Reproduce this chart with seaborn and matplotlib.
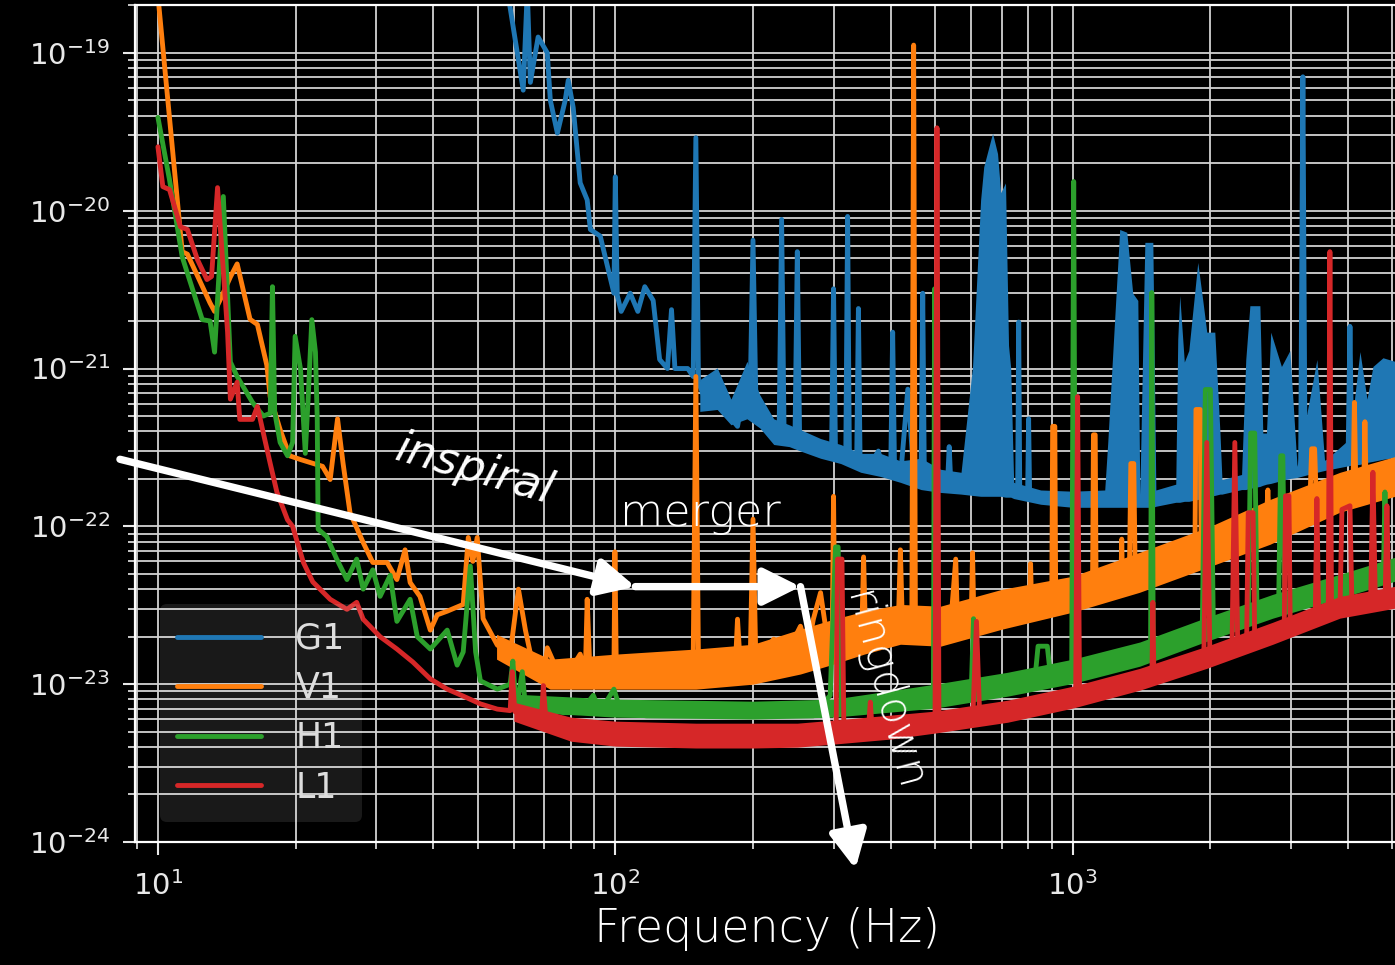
import matplotlib
matplotlib.use("Agg")
import matplotlib.pyplot as plt
import seaborn as sns
from matplotlib.ticker import FixedLocator, LogLocator, NullFormatter

# ---------------- data ----------------
detectors = ["G1", "V1", "H1", "L1"]
colors = ["#1f77b4", "#ff7f0e", "#2ca02c", "#d62728"]
x_major_ticks = [10, 100, 1000]
y_major_ticks = [1e-24, 1e-23, 1e-22, 1e-21, 1e-20, 1e-19]

g1_freq = [57.5, 59.8, 62.9, 64.2, 65.2, 67.8, 71.0, 72.1, 74.7, 77.7,
           78.9, 80.9, 83.8, 86.8, 88.2, 92.7, 96.2, 99.3, 100.0, 101.0,
           103.0, 107.8, 112.0, 116.0, 121.0, 125.0, 130.0, 132.7, 135.0, 144.0,
           148.0, 150.0, 152.0, 159.0, 167.0, 172.0, 185.0, 194.0, 197.0, 200.0,
           203.0, 222.0, 228.0, 231.0, 234.0, 247.0, 250.0, 253.0, 271.0, 277.0,
           297.0, 300.0, 303.0, 319.0, 322.0, 325.0, 337.0, 340.0, 343.0, 356.0,
           376.0, 386.0, 400.0, 404.0, 408.0, 420.0, 436.0, 450.0, 466.0, 470.0,
           474.0, 489.0, 511.0, 532.0, 537.0, 542.0, 577.0, 604.0, 721.0, 758.0,
           762.0, 766.0, 797.0, 801.0, 805.0, 851.0, 1000.0, 1187.0, 1402.0, 1660.0,
           1964.0, 2325.0, 2739.0, 3150.0, 3186.0, 3222.0, 3839.0, 4000.0, 4038.0, 4076.0,
           4533.0, 5066.0]
g1_asd = [3.0e-19, 1.46e-19, 5.8e-20, 2.5e-19, 6.5e-20, 1.26e-19, 1.0e-19, 5.0e-20, 3.1e-20, 5.0e-20,
          6.7e-20, 4.5e-20, 1.5e-20, 1.17e-20, 7.6e-21, 6.9e-21, 4.4e-21, 3.0e-21, 1.64e-20, 2.9e-21,
          2.3e-21, 3.0e-21, 2.3e-21, 3.3e-21, 2.7e-21, 1.14e-21, 1.0e-21, 2.36e-21, 1.0e-21, 1.0e-21,
          8.9e-22, 2.9e-20, 8.2e-22, 5.8e-22, 9.0e-22, 5.6e-22, 4.3e-22, 9.0e-22, 6.0e-22, 6.5e-21,
          6.0e-22, 3.6e-22, 3.6e-22, 8.8e-21, 3.5e-22, 3.4e-22, 5.5e-21, 3.3e-22, 3.5e-22, 2.9e-22,
          2.9e-22, 3.2e-21, 2.8e-22, 2.6e-22, 9.2e-21, 2.5e-22, 2.4e-22, 2.4e-21, 2.4e-22, 2.3e-22,
          3.0e-22, 2.2e-22, 2.2e-22, 1.7e-21, 2.1e-22, 2.0e-22, 7.4e-22, 2.0e-22, 1.9e-22, 3.0e-21,
          1.9e-22, 1.8e-22, 1.75e-22, 1.75e-22, 3.2e-22, 1.75e-22, 1.75e-22, 1.8e-22, 1.71e-22, 1.65e-22,
          1.97e-21, 1.65e-22, 1.6e-22, 4.8e-22, 1.6e-22, 1.55e-22, 1.48e-22, 1.48e-22, 1.48e-22, 1.6e-22,
          1.74e-22, 1.85e-22, 2.13e-22, 2.3e-22, 7.05e-20, 2.33e-22, 2.66e-22, 2.7e-22, 1.85e-21, 2.75e-22,
          2.9e-22, 3.07e-22]
g1_band_freq = [153, 167, 179, 194, 207, 222, 240, 254, 281, 311,
                344, 380, 420, 466, 514, 570, 604, 629, 639, 668,
                685, 696, 713, 724, 732, 743, 851, 1000, 1175, 1193,
                1267, 1313, 1353, 1388, 1402, 1438, 1497, 1520, 1680, 1697,
                1714, 1754, 1794, 1877, 1925, 1964, 2045, 2099, 2120, 2340,
                2390, 2440, 2566, 2604, 2652, 2710, 2860, 2984, 3094, 3419,
                3554, 4038, 4246, 4400, 4533, 4768, 5066]
g1_band_hi = [8.5e-22, 1.01e-21, 6.4e-22, 1.11e-21, 6.8e-22, 4.8e-22, 4.4e-22, 4.1e-22, 3.6e-22, 3.3e-22,
              2.9e-22, 2.9e-22, 2.6e-22, 2.7e-22, 2.3e-22, 2.2e-22, 1.03e-21, 1.17e-20, 1.9e-20, 3.1e-20,
              2.3e-20, 1.3e-20, 1.5e-20, 1.4e-21, 1.0e-21, 1.9e-22, 1.7e-22, 1.67e-22, 1.7e-22, 3.4e-22,
              7.6e-21, 7.3e-21, 3.0e-21, 2.7e-21, 1.6e-22, 6.3e-21, 6.3e-21, 1.7e-22, 1.85e-22, 1.53e-21,
              2.9e-21, 1.1e-21, 1.3e-21, 4.7e-21, 2.7e-21, 1.7e-21, 1.7e-21, 3.9e-22, 1.98e-22, 2.13e-22,
              1.14e-21, 2.5e-21, 2.5e-21, 3.9e-22, 3.9e-22, 1.7e-21, 1.03e-21, 1.3e-21, 2.4e-22, 1.14e-21,
              2.6e-22, 3.6e-22, 1.28e-21, 6.4e-22, 1.03e-21, 1.17e-21, 1.11e-21]
g1_band_lo = [5.35e-22, 5.5e-22, 4.4e-22, 4.8e-22, 4.2e-22, 3.3e-22, 3.2e-22, 3.0e-22, 2.7e-22, 2.5e-22,
              2.2e-22, 2.07e-22, 1.9e-22, 1.71e-22, 1.64e-22, 1.6e-22, 1.57e-22, 1.55e-22, 1.55e-22, 1.55e-22,
              1.55e-22, 1.55e-22, 1.53e-22, 1.53e-22, 1.53e-22, 1.5e-22, 1.38e-22, 1.32e-22, 1.32e-22, 1.32e-22,
              1.32e-22, 1.32e-22, 1.32e-22, 1.32e-22, 1.32e-22, 1.32e-22, 1.32e-22, 1.34e-22, 1.42e-22, 1.42e-22,
              1.42e-22, 1.44e-22, 1.44e-22, 1.48e-22, 1.5e-22, 1.55e-22, 1.57e-22, 1.6e-22, 1.6e-22, 1.71e-22,
              1.71e-22, 1.74e-22, 1.79e-22, 1.82e-22, 1.85e-22, 1.87e-22, 1.95e-22, 2.01e-22, 2.04e-22, 2.2e-22,
              2.26e-22, 2.43e-22, 2.47e-22, 2.54e-22, 2.58e-22, 2.66e-22, 2.73e-22]

v1_freq = [10.0, 11.3, 11.6, 13.0, 13.3, 13.7, 14.4, 14.9, 15.9, 16.5,
           17.3, 17.6, 18.5, 19.4, 20.5, 22.9, 23.8, 24.7, 25.4, 26.3,
           28.1, 29.5, 31.7, 33.3, 34.7, 35.6, 37.4, 39.4, 40.8, 42.9,
           46.5, 47.7, 48.8, 49.9, 51.4, 55.2, 58.9, 61.4, 63.6, 66.1,
           69.6, 71.0, 74.7, 79.7, 83.8, 86.0, 86.8, 88.0, 92.7, 97.8,
           99.3, 99.8, 100.5, 103.0, 113.0, 125.0, 139.0, 148.0, 150.0, 152.0,
           164.0, 183.0, 185.0, 188.0, 197.0, 200.0, 203.0, 211.0, 222.0, 238.0,
           254.0, 263.0, 271.0, 281.0, 291.0, 298.0, 300.0, 302.0, 311.0, 332.0,
           346.0, 349.0, 352.0, 367.0, 394.0, 416.0, 420.0, 424.0, 436.0, 445.0,
           449.0, 453.0, 482.0, 541.0, 555.0, 560.0, 600.0, 604.0, 608.0, 700.0,
           805.0, 809.0, 813.0, 900.0, 904.0, 914.0, 918.0, 1000.0, 1105.0, 1110.0,
           1120.0, 1125.0, 1275.0, 1280.0, 1285.0, 1330.0, 1340.0, 1360.0, 1370.0, 1850.0,
           1860.0, 1900.0, 1910.0, 2650.0, 2671.0, 2690.0, 3300.0, 3330.0, 3380.0, 3410.0,
           4100.0, 4130.0, 4160.0, 4330.0, 4354.0, 4380.0, 5066.0]
v1_asd = [2.3e-19, 5.5e-21, 5.3e-21, 2.6e-21, 2.3e-21, 2.75e-21, 3.8e-21, 4.6e-21, 2.05e-21, 1.9e-21,
          1.05e-21, 6.6e-22, 4.1e-22, 2.8e-22, 2.65e-22, 2.4e-22, 1.98e-22, 4.8e-22, 2.5e-22, 1.22e-22,
          7.9e-23, 5.9e-23, 5.9e-23, 4.6e-23, 7.1e-23, 4.4e-23, 3.6e-23, 2.2e-23, 2.75e-23, 2.9e-23,
          3.2e-23, 8.5e-23, 6.0e-23, 8.5e-23, 2.6e-23, 1.77e-23, 1.55e-23, 4.0e-23, 2.2e-23, 1.3e-23,
          1.1e-23, 1.7e-23, 1.22e-23, 1.22e-23, 1.55e-23, 1.2e-23, 3.45e-23, 1.2e-23, 1.08e-23, 1.44e-23,
          1.2e-23, 6.9e-23, 1.25e-23, 1.22e-23, 1.25e-23, 1.3e-23, 1.22e-23, 1.4e-23, 8.9e-22, 1.35e-23,
          1.44e-23, 1.3e-23, 2.58e-23, 1.2e-23, 1.2e-23, 1.11e-22, 1.3e-23, 1.6e-23, 1.93e-23, 1.6e-23,
          2.33e-23, 1.6e-23, 2.58e-23, 3.8e-23, 1.9e-23, 1.9e-23, 1.55e-22, 2.2e-23, 2.58e-23, 2.2e-23,
          2.2e-23, 6.4e-23, 2.4e-23, 2.6e-23, 2.95e-23, 2.6e-23, 7.1e-23, 2.6e-23, 2.7e-23, 2.5e-23,
          1.12e-19, 2.5e-23, 2.5e-23, 2.4e-23, 6.2e-23, 2.4e-23, 2.6e-23, 6.8e-23, 2.6e-23, 2.9e-23,
          3.2e-23, 5.8e-23, 3.2e-23, 3.4e-23, 4.3e-22, 4.3e-22, 3.4e-23, 3.7e-23, 4.0e-23, 3.8e-22,
          3.8e-22, 4.1e-23, 4.5e-23, 8.3e-23, 4.5e-23, 4.7e-23, 2.5e-22, 2.5e-22, 4.8e-23, 6.8e-23,
          5.5e-22, 5.5e-22, 7.0e-23, 1.05e-22, 1.7e-22, 1.07e-22, 1.4e-22, 3.1e-22, 3.1e-22, 1.45e-22,
          1.75e-22, 6.1e-22, 1.78e-22, 1.85e-22, 4.6e-22, 1.87e-22, 2.1e-22]
v1_band_freq = [55, 72, 100, 150, 200, 254, 300, 350, 420, 514, 700, 1000, 1400, 2000, 2700, 3840, 5066]
v1_band_hi = [2.07e-23, 1.44e-23, 1.55e-23, 1.67e-23, 1.79e-23, 2.23e-23, 2.58e-23, 2.9e-23, 3.2e-23,
              3.12e-23, 3.99e-23, 4.83e-23, 6.84e-23, 1.0e-22, 1.48e-22, 2.2e-22, 2.77e-22]
v1_band_lo = [1.44e-23, 9.3e-24, 9.3e-24, 9.3e-24, 1.0e-23, 1.16e-23, 1.34e-23, 1.55e-23, 1.79e-23,
              1.74e-23, 2.23e-23, 2.86e-23, 3.82e-23, 5.58e-23, 7.7e-23, 1.23e-22, 1.55e-22]

h1_freq = [10.0, 10.6, 11.3, 12.5, 13.0, 13.3, 13.9, 14.4, 14.9, 16.1,
           17.0, 17.6, 17.8, 18.0, 18.5, 19.2, 19.7, 19.95, 20.5, 21.0,
           21.3, 21.7, 22.1, 22.3, 22.4, 23.4, 24.6, 25.9, 27.2, 28.1,
           29.5, 30.6, 32.2, 33.3, 35.6, 36.9, 39.4, 42.9, 45.1, 46.5,
           48.2, 49.5, 50.7, 55.2, 58.9, 59.7, 60.5, 61.1, 62.6, 63.5,
           65.2, 71.0, 77.0, 83.8, 89.5, 92.7, 99.3, 103.0, 117.0, 139.0,
           164.0, 181.0, 194.0, 228.0, 271.0, 295.0, 303.0, 307.0, 312.0, 322.0,
           380.0, 449.0, 496.0, 499.0, 502.0, 514.0, 600.0, 607.0, 614.0, 721.0,
           826.0, 840.0, 880.0, 895.0, 995.0, 1005.0, 1015.0, 1187.0, 1402.0, 1480.0,
           1489.0, 1500.0, 1660.0, 1920.0, 1950.0, 2000.0, 2030.0, 2325.0, 2420.0, 2450.0,
           2500.0, 2530.0, 2820.0, 2850.0, 2880.0, 2910.0, 3251.0, 3839.0, 4780.0, 4816.0,
           4860.0, 5066.0]
h1_asd = [3.9e-20, 1.57e-20, 5.1e-21, 2.04e-21, 2.0e-21, 1.27e-21, 1.23e-20, 1.1e-21, 8.9e-22, 6.1e-22,
          5.0e-22, 5.2e-22, 3.3e-21, 5.3e-22, 3.4e-22, 2.8e-22, 3.4e-22, 1.6e-21, 9.9e-22, 2.9e-22,
          6.4e-22, 2.04e-21, 1.27e-21, 4.8e-22, 9.6e-23, 8.6e-23, 6.2e-23, 4.6e-23, 6.2e-23, 4.0e-23,
          5.3e-23, 3.6e-23, 4.9e-23, 2.5e-23, 3.45e-23, 2.0e-23, 1.67e-23, 2.2e-23, 1.32e-23, 1.6e-23,
          5.6e-23, 1.6e-23, 1.05e-23, 9.3e-24, 1.0e-23, 1.4e-23, 8.0e-24, 7.7e-24, 1.2e-23, 7.6e-24,
          7.4e-24, 7.0e-24, 6.6e-24, 6.6e-24, 8.5e-24, 6.7e-24, 9.3e-24, 6.6e-24, 6.3e-24, 6.3e-24,
          6.3e-24, 7.0e-24, 6.3e-24, 6.3e-24, 6.3e-24, 8.5e-24, 7.4e-23, 7.4e-23, 7.0e-24, 7.0e-24,
          7.3e-24, 7.7e-24, 8.0e-24, 3.2e-21, 8.2e-24, 8.4e-24, 9.0e-24, 2.6e-23, 9.3e-24, 1.0e-23,
          1.05e-23, 1.74e-23, 1.74e-23, 1.1e-23, 1.2e-23, 1.53e-20, 1.2e-23, 1.34e-23, 1.55e-23, 1.6e-23,
          3.03e-21, 1.62e-23, 1.86e-23, 2.2e-23, 7.36e-22, 7.36e-22, 2.3e-23, 2.58e-23, 2.6e-23, 3.9e-22,
          3.9e-22, 2.7e-23, 3.1e-23, 2.8e-22, 2.8e-22, 3.2e-23, 3.6e-23, 4.2e-23, 5.0e-23, 1.65e-22,
          5.1e-23, 5.34e-23]
h1_band_freq = [60, 100, 200, 300, 500, 721, 1000, 1402, 1964, 2739, 3839, 5066]
h1_band_hi = [8.65e-24, 8.04e-24, 7.8e-24, 8.04e-24, 1.0e-23, 1.19e-23, 1.44e-23, 1.85e-23, 2.65e-23,
              3.71e-23, 4.97e-23, 6.37e-23]
h1_band_lo = [6.75e-24, 6.18e-24, 6.01e-24, 6.18e-24, 7.05e-24, 8.4e-24, 1.01e-23, 1.3e-23, 1.87e-23,
              2.62e-23, 3.5e-23, 4.49e-23]

l1_freq = [10.0, 10.25, 10.6, 11.2, 11.6, 12.2, 12.8, 13.1, 13.5, 14.2,
           14.4, 14.9, 15.1, 16.1, 16.5, 17.0, 17.6, 18.2, 19.2, 19.7,
           20.8, 21.8, 23.8, 25.9, 27.2, 28.1, 30.6, 33.3, 36.1, 39.4,
           42.9, 46.5, 50.7, 55.2, 58.9, 59.5, 60.3, 65.2, 68.9, 69.6,
           70.5, 78.5, 91.3, 108.0, 127.0, 150.0, 179.0, 211.0, 250.0, 271.0,
           291.0, 304.0, 306.0, 313.0, 316.0, 349.0, 358.0, 361.0, 364.0, 449.0,
           500.0, 505.0, 510.0, 605.0, 616.0, 626.0, 721.0, 1015.0, 1025.0, 1035.0,
           1402.0, 1490.0, 1497.0, 1505.0, 1935.0, 1964.0, 1995.0, 2230.0, 2262.0, 2295.0,
           2400.0, 2420.0, 2480.0, 2500.0, 2900.0, 2920.0, 2970.0, 2990.0, 3390.0, 3419.0,
           3450.0, 3620.0, 3650.0, 3680.0, 3840.0, 3878.0, 4038.0, 4080.0, 4480.0, 4533.0,
           4590.0, 4820.0, 4865.0, 4910.0, 5066.0]
l1_asd = [2.54e-20, 1.42e-20, 1.36e-20, 7.9e-21, 7.6e-21, 4.9e-21, 3.66e-21, 3.83e-21, 1.4e-20, 1.7e-21,
          6.4e-22, 8.2e-22, 4.76e-22, 4.76e-22, 5.75e-22, 3.9e-22, 2.5e-22, 1.65e-22, 1.1e-22, 1.0e-22,
          5.9e-23, 4.45e-23, 3.45e-23, 2.98e-23, 3.3e-23, 2.58e-23, 2.0e-23, 1.67e-23, 1.38e-23, 1.08e-23,
          9.3e-24, 8.4e-24, 7.5e-24, 6.95e-24, 6.8e-24, 1.2e-23, 6.7e-24, 6.0e-24, 6.0e-24, 9.8e-24,
          6.0e-24, 5.0e-24, 4.8e-24, 4.8e-24, 4.8e-24, 4.7e-24, 4.7e-24, 4.7e-24, 4.7e-24, 4.8e-24,
          5.0e-24, 5.2e-24, 6.2e-23, 6.2e-23, 5.4e-24, 5.4e-24, 5.4e-24, 7.7e-24, 5.4e-24, 5.7e-24,
          5.7e-24, 3.35e-20, 5.7e-24, 6.3e-24, 2.5e-23, 6.4e-24, 6.8e-24, 8.3e-24, 6.65e-22, 8.4e-24,
          1.08e-23, 1.12e-23, 3.3e-23, 1.13e-23, 1.45e-23, 3.4e-22, 1.5e-23, 1.7e-23, 3.4e-22, 1.75e-23,
          1.8e-23, 1.22e-22, 1.22e-22, 1.85e-23, 2.1e-23, 1.56e-22, 1.56e-22, 2.2e-23, 2.5e-23, 1.5e-22,
          2.55e-23, 2.7e-23, 5.5e-21, 2.75e-23, 2.9e-23, 1.28e-22, 1.35e-22, 3.0e-23, 3.2e-23, 2.2e-22,
          3.25e-23, 3.35e-23, 1.35e-22, 3.4e-23, 3.5e-23]
l1_band_freq = [60, 80, 100, 150, 200, 250, 300, 400, 500, 721, 1000, 1402, 1964, 2739, 3839, 5066]
l1_band_hi = [7.69e-24, 6.18e-24, 5.83e-24, 5.66e-24, 5.66e-24, 5.66e-24, 5.92e-24, 6.37e-24, 6.75e-24,
              7.92e-24, 9.7e-24, 1.26e-23, 1.74e-23, 2.47e-23, 3.6e-23, 4.17e-23]
l1_band_lo = [5.83e-24, 4.35e-24, 4.05e-24, 3.94e-24, 3.94e-24, 3.99e-24, 4.17e-24, 4.49e-24, 4.9e-24,
              5.74e-24, 7.05e-24, 9.16e-24, 1.26e-23, 1.79e-23, 2.62e-23, 3.03e-23]

# annotation anchor points (Hz, strain)
inspiral_start = (8.26, 2.66e-22)
merger_start = (110.6, 4.15e-23)
ringdown_start = (254.0, 4.15e-23)
ringdown_end = (335.0, 6.75e-25)

# ---------------- style ----------------
sns.set_theme(style="dark")
plt.rcParams["font.family"] = ["DejaVu Sans"]
plt.rcParams["mathtext.fontset"] = "dejavusans"

fig = plt.figure(figsize=(13.95, 9.65), dpi=100, facecolor="black")
ax = fig.add_axes([135 / 1395, 123 / 965, 1260 / 1395, 837 / 965])
ax.set_facecolor("black")
ax.set_xscale("log")
ax.set_yscale("log")

series = [
    (g1_freq, g1_asd, g1_band_freq, g1_band_lo, g1_band_hi),
    (v1_freq, v1_asd, v1_band_freq, v1_band_lo, v1_band_hi),
    (h1_freq, h1_asd, h1_band_freq, h1_band_lo, h1_band_hi),
    (l1_freq, l1_asd, l1_band_freq, l1_band_lo, l1_band_hi),
]
for i, (name, col, (f, a, bf, blo, bhi)) in enumerate(zip(detectors, colors, series)):
    z = 2 + 0.2 * i
    ax.fill_between(bf, blo, bhi, color=col, linewidth=0, zorder=z)
    sns.lineplot(x=f, y=a, ax=ax, color=col, linewidth=3.5, label=name,
                 estimator=None, sort=False, zorder=z + 0.1)

ax.set_xlim(8.91, 5066)
ax.set_ylim(1e-24, 2.01e-19)

ax.xaxis.set_major_locator(FixedLocator(x_major_ticks))
ax.yaxis.set_major_locator(FixedLocator(y_major_ticks))
ax.xaxis.set_minor_locator(LogLocator(base=10, subs=range(2, 10), numticks=100))
ax.yaxis.set_minor_locator(LogLocator(base=10, subs=range(2, 10), numticks=100))
ax.xaxis.set_minor_formatter(NullFormatter())
ax.yaxis.set_minor_formatter(NullFormatter())

ax.grid(True, which="both", color="#d2d2d2", linewidth=1.3)
ax.set_axisbelow(True)
ax.tick_params(axis="both", which="major", length=9, width=1.5, colors="#e8e8e8",
               labelsize=21, bottom=True, left=True)
ax.tick_params(axis="y", which="major", pad=9)
ax.tick_params(axis="x", which="major", pad=12)
ax.tick_params(axis="both", which="minor", length=5, width=1.2, colors="#e8e8e8",
               bottom=True, left=True)
for side in ["left", "top", "bottom"]:
    ax.spines[side].set_color("white")
    ax.spines[side].set_linewidth(1.6)
ax.spines["right"].set_visible(False)

ax.set_xlabel("Frequency (Hz)", fontsize=33, color="white", fontweight="light")
ax.xaxis.set_label_coords(0.502, -0.078)
ax.set_ylabel("")

leg = ax.legend(loc="lower left", bbox_to_anchor=(0.0198, 0.0239), borderaxespad=0,
                fontsize=25, handlelength=2.4, handletextpad=1.0, labelspacing=0.45,
                borderpad=0.5, frameon=True, fancybox=True, facecolor="white",
                framealpha=0.1, edgecolor="none")
for t in leg.get_texts():
    t.set_color("#dddddd")
leg.set_zorder(10)

# ---------------- annotations ----------------
arrow_kw = dict(arrowstyle="-|>", color="white", lw=5.3, shrinkA=0, shrinkB=0,
                mutation_scale=56)
ax.annotate("", xy=merger_start, xytext=inspiral_start, arrowprops=arrow_kw,
            annotation_clip=False, zorder=20)
ax.annotate("", xy=ringdown_start, xytext=merger_start, arrowprops=arrow_kw,
            annotation_clip=False, zorder=20)
ax.annotate("", xy=ringdown_end, xytext=ringdown_start, arrowprops=arrow_kw,
            annotation_clip=False, zorder=20)

ax.text(49.2, 2.3e-22, "inspiral", rotation=-16, style="italic", fontsize=32,
        color="white", ha="center", va="center", fontweight="light",
        rotation_mode="anchor", zorder=21)
ax.text(153.5, 1.0e-22, "merger", fontsize=32, color="white", ha="center",
        va="baseline", fontweight="light", zorder=21)
ax.text(385.0, 9.0e-24, "ringdown", rotation=-75, fontsize=32, color="white",
        ha="center", va="center", fontweight="light", zorder=21)

fig.savefig("out.png", dpi=100, facecolor="black")
